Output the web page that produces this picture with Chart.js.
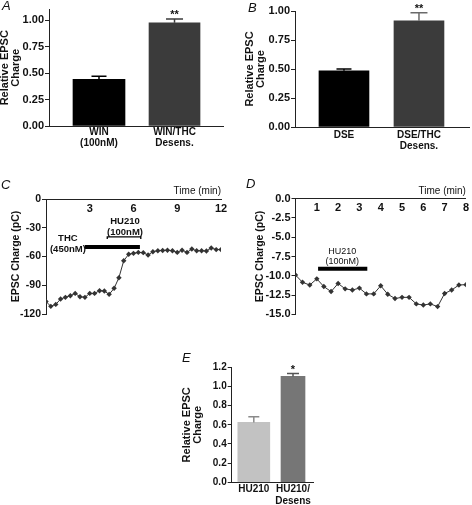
<!DOCTYPE html>
<html><head><meta charset="utf-8">
<script src="https://cdn.jsdelivr.net/npm/chart.js@4/dist/chart.umd.min.js"></script>
<style>
html,body{margin:0;padding:0;background:#fff;width:472px;height:505px;overflow:hidden;position:relative;}
canvas{position:absolute;}
.lt{position:absolute;font:italic 13px "Liberation Sans",Arial,sans-serif;line-height:13px;color:#111;}
</style></head><body>
<canvas id="cA"></canvas><canvas id="cB"></canvas><canvas id="cC"></canvas><canvas id="cD"></canvas><canvas id="cE"></canvas>
<div class="lt" style="left:2px;top:-1px">A</div>
<div class="lt" style="left:248px;top:1px">B</div>
<div class="lt" style="left:1px;top:178px">C</div>
<div class="lt" style="left:246px;top:177px">D</div>
<div class="lt" style="left:182px;top:351px">E</div>
<script>
// ---------------- data ----------------
// Panel A
const aCategories = [['WIN', '(100nM)'], ['WIN/THC', 'Desens.']];
const aValues = [0.44, 0.975];
const aErrors = [0.03, 0.035];
const aStars = ['', '**'];
const aYTicks = [0, 0.25, 0.5, 0.75, 1.0];
// Panel B
const bCategories = [['DSE'], ['DSE/THC', 'Desens.']];
const bValues = [0.485, 0.915];
const bErrors = [0.015, 0.07];
const bStars = ['', '**'];
const bYTicks = [0, 0.25, 0.5, 0.75, 1.0];
// Panel C
const cTimes = [0, 0.33, 0.67, 1, 1.33, 1.67, 2, 2.33, 2.67, 3, 3.33, 3.67, 4, 4.33, 4.67, 5, 5.33, 5.67, 6,
                6.33, 6.67, 7, 7.33, 7.67, 8, 8.33, 8.67, 9, 9.33, 9.67, 10, 10.33, 10.67, 11, 11.33, 11.67, 12];
const cCharge = [-107, -112, -110, -104.4, -102.6, -100.9, -98.5, -102, -102.6, -98.5, -98.5, -95.7, -96, -99.5,
                 -93.2, -82.1, -64.4, -57.7, -56.7, -55.7, -56, -58.5, -55, -54, -53.7, -53.4, -54, -55.7,
                 -53.4, -55.7, -52.2, -54, -54, -54.3, -51.1, -52.8, -52.8];
const cXTicks = [3, 6, 9, 12];
const cYTicks = [0, -30, -60, -90, -120];
const cThcTimes = [2.67, 6.44];
const cThcLevels = [-50, -50];
const cHuTimes = [4.2, 4.2, 6.5, 6.5];
const cHuLevels = [-41.8, -39.6, -39.6, -41.8];
// Panel D
const dTimes = [0, 0.33, 0.67, 1, 1.33, 1.67, 2, 2.33, 2.67, 3, 3.33, 3.67, 4, 4.33, 4.67, 5, 5.33, 5.67, 6,
                6.33, 6.67, 7, 7.33, 7.67, 8];
const dCharge = [-9.9, -10.85, -11.2, -10.4, -11.4, -12.05, -11.0, -11.7, -11.85, -11.6, -12.35, -12.35, -11.3,
                 -12.4, -12.95, -12.8, -12.8, -13.65, -13.8, -13.65, -14.0, -12.3, -11.85, -11.2, -11.15];
const dXTicks = [1, 2, 3, 4, 5, 6, 7, 8];
const dYTicks = [0, -2.5, -5, -7.5, -10, -12.5, -15];
const dHuTimes = [1.06, 3.37];
const dHuLevels = [-9.1, -9.1];
// Panel E
const eCategories = [['HU210'], ['HU210/', 'Desens']];
const eValues = [0.625, 1.105];
const eErrors = [0.06, 0.03];
const eStars = ['', '*'];
const eYTicks = [0, 0.2, 0.4, 0.6, 0.8, 1.0, 1.2];

// ---------------- setup ----------------
const FONT = '"Liberation Sans", Arial, Helvetica, sans-serif';
const AX = '#222';
Chart.defaults.font.family = FONT;
Chart.defaults.color = '#111';
Chart.defaults.animation = false;

const errPlugin = {
  id: 'errbars',
  afterDatasetsDraw(chart, args, opts) {
    const ctx = chart.ctx, ys = chart.scales.y;
    chart.data.datasets.forEach((ds, i) => {
      const el = chart.getDatasetMeta(i).data[0];
      const v = ds.data[0].y;
      const yt = ys.getPixelForValue(v + opts.errors[i]);
      ctx.save();
      ctx.strokeStyle = opts.colors[i];
      ctx.lineWidth = 1.5;
      ctx.beginPath();
      ctx.moveTo(el.x, el.y); ctx.lineTo(el.x, yt);
      ctx.moveTo(el.x - opts.cap[i] / 2, yt); ctx.lineTo(el.x + opts.cap[i] / 2, yt);
      ctx.stroke();
      if (opts.stars[i]) {
        ctx.fillStyle = '#111';
        ctx.font = 'bold 11px ' + FONT;
        ctx.textAlign = 'center';
        ctx.textBaseline = 'alphabetic';
        ctx.fillText(opts.stars[i], el.x, yt - 1);
      }
      ctx.restore();
    });
  }
};

const notePlugin = {
  id: 'notes',
  afterDatasetsDraw(chart, args, opts) {
    const ctx = chart.ctx, xs = chart.scales.x, ys = chart.scales.y;
    ctx.save();
    ctx.fillStyle = '#111';
    ctx.textAlign = 'center';
    ctx.textBaseline = 'middle';
    (opts.items || []).forEach(it => {
      ctx.font = it.font;
      const px = xs.getPixelForValue(it.x), py = ys.getPixelForValue(it.y);
      it.lines.forEach((ln, k) => ctx.fillText(ln, px, py + k * it.lh));
    });
    if (opts.title) {
      ctx.font = opts.title.font;
      ctx.textAlign = 'right';
      ctx.fillText(opts.title.text, chart.chartArea.right, chart.chartArea.top + opts.title.dy);
    }
    ctx.restore();
  }
};

function place(id, cv) {
  const c = document.getElementById(id);
  c.width = cv.w; c.height = cv.h;
  c.style.left = cv.x + 'px'; c.style.top = cv.y + 'px';
  return c;
}

function yTitle(text, size, pad) {
  return {display: true, text: text, color: '#111',
          font: {size: size, weight: 'bold', lineHeight: 0.95}, padding: {top: pad, bottom: 0}};
}

function barChart(id, cv, area, d) {
  const canvas = place(id, cv);
  const datasets = d.values.map((v, i) => ({
    data: [{x: i, y: v}], backgroundColor: d.colors[i], barThickness: d.widths[i],
    grouped: false, borderWidth: 0
  }));
  new Chart(canvas, {
    type: 'bar',
    data: {datasets},
    options: {
      responsive: false, animation: false,
      layout: {padding: {left: 0, top: area.t, right: cv.w - area.r, bottom: 0}},
      plugins: {legend: {display: false}, tooltip: {enabled: false},
                errbars: {errors: d.errors, stars: d.stars, colors: d.errColors, cap: d.cap}},
      scales: {
        x: {type: 'linear', min: area.xmin, max: area.xmax, offset: false, bounds: 'data', grace: 0,
            grid: {display: false, drawTicks: false, offset: false}, border: {color: AX, width: 1},
            afterBuildTicks: s => { s.ticks = d.categories.map((_, i) => ({value: i})); },
            ticks: {callback: v => d.categories[v], font: {size: 10, weight: 'bold', lineHeight: area.xlh},
                    padding: area.xpad, color: '#111', maxRotation: 0, autoSkip: false},
            afterFit: s => { s.height = cv.h - area.b; }},
        y: {min: 0, max: d.max,
            afterBuildTicks: s => { s.ticks = d.yTicks.map(v => ({value: v})); },
            ticks: {callback: v => Number(v).toFixed(d.dec), font: {size: d.tickSize, weight: 'bold'}, padding: 1, color: '#111'},
            grid: {drawOnChartArea: false, drawTicks: true, tickLength: 4, color: AX},
            border: {color: AX, width: 1},
            title: yTitle(['Relative EPSC', 'Charge'], 11, area.titlePad),
            afterFit: s => { s.width = area.l; }}
      }
    },
    plugins: [errPlugin]
  });
}

function lineChart(id, cv, area, d) {
  const canvas = place(id, cv);
  const datasets = [
    {data: d.times.map((t, i) => ({x: t, y: d.values[i]})), borderColor: '#333', borderWidth: 1,
     pointStyle: 'rectRot', pointRadius: 2.7, pointBackgroundColor: '#333', pointBorderWidth: 0, tension: 0}
  ].concat(d.marks.map(m => ({
    data: m.times.map((t, i) => ({x: t, y: m.levels[i]})), borderColor: '#000', borderWidth: m.width,
    pointRadius: 0, borderCapStyle: 'butt', tension: 0
  })));
  new Chart(canvas, {
    type: 'line',
    data: {datasets},
    options: {
      responsive: false, animation: false,
      layout: {padding: {left: 0, top: area.t, right: cv.w - area.r, bottom: cv.h - area.b}},
      plugins: {legend: {display: false}, tooltip: {enabled: false},
                notes: {items: d.notes, title: {text: 'Time (min)', font: '10px ' + FONT, dy: area.titleDy}}},
      scales: {
        x: {type: 'linear', position: {y: 0}, min: 0, max: d.xmax,
            afterBuildTicks: s => { s.ticks = d.xTicks.map(v => ({value: v})); },
            ticks: {font: {size: 11, weight: 'bold'}, padding: area.xpad, color: '#111', maxRotation: 0, autoSkip: false},
            grid: {display: false, drawTicks: false}, border: {color: AX, width: 1}},
        y: {min: d.ymin, max: 0,
            afterBuildTicks: s => { s.ticks = d.yTicks.map(v => ({value: v})); },
            ticks: {callback: v => Number(v).toFixed(d.dec), font: {size: d.tickSize, weight: 'bold'}, padding: 1, color: '#111'},
            grid: {drawOnChartArea: false, drawTicks: true, tickLength: 4, color: AX},
            border: {color: AX, width: 1},
            title: yTitle('EPSC Charge (pC)', 10.5, area.titlePad),
            afterFit: s => { s.width = area.l; }}
      }
    },
    plugins: [notePlugin]
  });
}

// ---------------- charts ----------------
barChart('cA', {x: 0, y: 0, w: 236, h: 170},
  {l: 49, t: 9.5, r: 223, b: 126, xmin: -0.662, xmax: 1.642, xpad: 1, xlh: 1.1, titlePad: 0},
  {categories: aCategories, values: aValues, errors: aErrors, stars: aStars, yTicks: aYTicks, max: 1.1, dec: 2,
   tickSize: 11, colors: ['#000000', '#3b3b3b'], errColors: ['#000000', '#3b3b3b'], widths: [52, 51], cap: [15, 17]});

barChart('cB', {x: 236, y: 0, w: 236, h: 170},
  {l: 59, t: 11, r: 233, b: 127, xmin: -0.653, xmax: 1.667, xpad: 3, xlh: 1.1, titlePad: 9},
  {categories: bCategories, values: bValues, errors: bErrors, stars: bStars, yTicks: bYTicks, max: 1.0, dec: 2,
   tickSize: 11, colors: ['#000000', '#3b3b3b'], errColors: ['#000000', '#6a6a6a'], widths: [50, 50], cap: [15, 17]});

lineChart('cC', {x: 0, y: 170, w: 236, h: 180},
  {l: 46, t: 29, r: 221, b: 144, xpad: 3, titlePad: 11.5, titleDy: -8},
  {times: cTimes, values: cCharge, xTicks: cXTicks, yTicks: cYTicks, xmax: 12, ymin: -120, dec: 0, tickSize: 10.5,
   marks: [{times: cThcTimes, levels: cThcLevels, width: 4}, {times: cHuTimes, levels: cHuLevels, width: 1.3}],
   notes: [{x: 1.5, y: -40.7, lines: ['THC', '(450nM)'], lh: 11.7, font: 'bold 9.5px ' + FONT},
           {x: 5.42, y: -23.7, lines: ['HU210', '(100nM)'], lh: 10.6, font: 'bold 9.5px ' + FONT}]});

lineChart('cD', {x: 236, y: 170, w: 236, h: 180},
  {l: 59.5, t: 28.7, r: 232.3, b: 144.3, xpad: 3, titlePad: 19.5, titleDy: -7.7},
  {times: dTimes, values: dCharge, xTicks: dXTicks, yTicks: dYTicks, xmax: 8, ymin: -15, dec: 1, tickSize: 11,
   marks: [{times: dHuTimes, levels: dHuLevels, width: 4}],
   notes: [{x: 2.19, y: -6.79, lines: ['HU210', '(100nM)'], lh: 10.7, font: '9px ' + FONT}]});

barChart('cE', {x: 150, y: 350, w: 200, h: 155},
  {l: 81.7, t: 17.3, r: 163, b: 132.3, xmin: -0.564, xmax: 1.51, xpad: 1, xlh: 1.2, titlePad: 32},
  {categories: eCategories, values: eValues, errors: eErrors, stars: eStars, yTicks: eYTicks, max: 1.2, dec: 1,
   tickSize: 10, colors: ['#c2c2c2', '#767676'], errColors: ['#8a8a8a', '#555555'], widths: [32, 24], cap: [11, 12]});
</script>
</body></html>
